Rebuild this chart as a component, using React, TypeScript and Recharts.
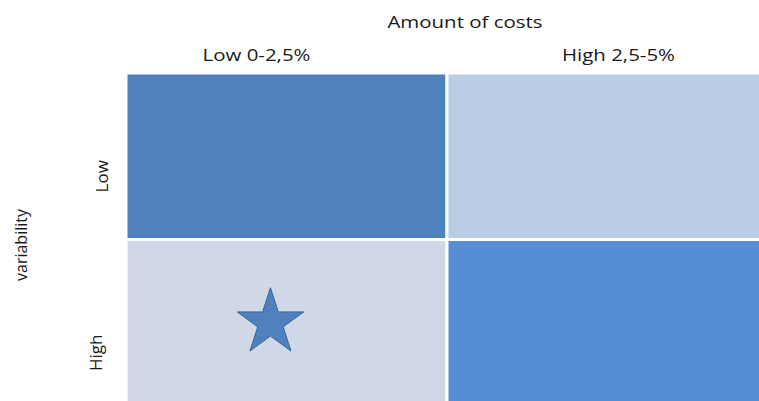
import React from "react";
import {
  ScatterChart,
  Scatter,
  XAxis,
  YAxis,
  ReferenceArea,
  Symbols,
} from "recharts";

// amount of costs, left to right
const costLevels = ["Low 0-2,5%", "High 2,5-5%"];
// variability, bottom to top
const variabilityLevels = ["High", "Low"];

// the four quadrants (cost index, variability index)
const cells = [
  { cost: 0, variability: 1 },
  { cost: 1, variability: 1 },
  { cost: 0, variability: 0 },
  { cost: 1, variability: 0 },
];

// where we are: low costs, high variability
const position = [{ cost: 0.45, variability: 0.5 }];

const cellColors = ["#4f81bd", "#b9cde5", "#d0d8e8", "#558ed5"];
const font = "'Open Sans', sans-serif";
const textColor = "#1a1a1a";

const xTickShift = [-30, 11];
const yTickShift = [30, 20];
const yTickBase = [102, 108];

function CostTick(props: any) {
  const { x, payload, index } = props;
  return (
    <text
      transform={`translate(${x + xTickShift[index]},61) scale(1.32,1)`}
      textAnchor="middle"
      fontFamily={font}
      fontSize={15.5}
      fill={textColor}
    >
      {costLevels[Math.floor(payload.value)]}
    </text>
  );
}

function VariabilityTick(props: any) {
  const { y, payload, index } = props;
  const cy = y + yTickShift[index];
  const bx = yTickBase[index];
  return (
    <text
      transform={`translate(${bx},${cy}) rotate(-90)`}
      textAnchor="middle"
      fontFamily={font}
      fontSize={17}
      fill={textColor}
    >
      {variabilityLevels[Math.floor(payload.value)]}
    </text>
  );
}

export default function App() {
  return (
    <div
      style={{
        position: "absolute",
        left: 0,
        top: 0,
        width: 759,
        height: 401,
        overflow: "hidden",
        background: "#fff",
      }}
    >
      <ScatterChart
        width={770}
        height={410}
        margin={{ top: 33, right: 2, bottom: 4, left: 26 }}
      >
        <XAxis
          type="number"
          dataKey="cost"
          orientation="top"
          domain={[0, costLevels.length]}
          ticks={costLevels.map((_, i) => i + 0.5)}
          tick={<CostTick />}
          axisLine={false}
          tickLine={false}
          height={40}
          label={{
            content: () => (
              <text
                transform="translate(465,28) scale(1.32,1)"
                textAnchor="middle"
                fontFamily={font}
                fontSize={15.5}
                fill={textColor}
              >
                Amount of costs
              </text>
            ),
          }}
        />
        <YAxis
          type="number"
          dataKey="variability"
          domain={[0, variabilityLevels.length]}
          ticks={variabilityLevels.map((_, i) => i + 0.5)}
          tick={<VariabilityTick />}
          axisLine={false}
          tickLine={false}
          width={100}
          label={{
            content: () => (
              <text
                transform="translate(27,245) rotate(-90)"
                textAnchor="middle"
                fontFamily={font}
                fontSize={16}
                fill={textColor}
              >
                variability
              </text>
            ),
          }}
        />
        {cells.map((c, i) => (
          <ReferenceArea
            key={i}
            x1={c.cost}
            x2={c.cost + 1}
            y1={c.variability}
            y2={c.variability + 1}
            fill={cellColors[i]}
            fillOpacity={1}
            stroke="#ffffff"
            strokeWidth={3}
          />
        ))}
        <Scatter
          data={position}
          isAnimationActive={false}
          shape={(p: any) => (
            <Symbols
              cx={p.cx}
              cy={p.cy}
              type="star"
              size={1375}
              fill="#4f81bd"
              stroke="#3c6494"
              strokeWidth={1}
            />
          )}
        />
      </ScatterChart>
    </div>
  );
}
